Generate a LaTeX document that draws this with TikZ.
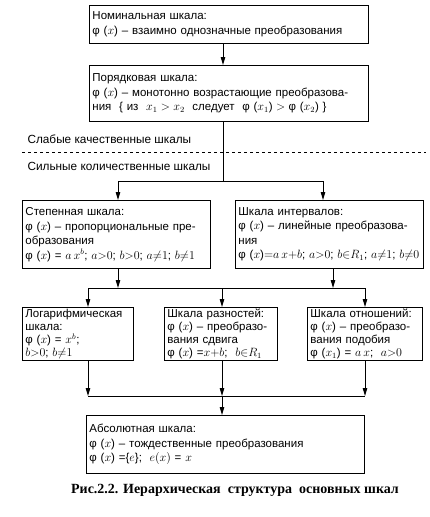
\documentclass[tikz,border=0pt]{standalone}
\usepackage{fontspec}
\setmainfont{Liberation Sans}
\newfontfamily\capfont{Liberation Serif}
\usepackage{tikz}
\usetikzlibrary{arrows.meta, positioning, calc}

\begin{document}
\begin{tikzpicture}[x=1pt, y=-1pt,
                scalebox/.style={draw, line width=0.9pt, rectangle, anchor=north west, align=left,
                    inner xsep=3pt, inner ysep=1pt, font=\fontsize{11.5}{14.5}\selectfont},
                smallbox/.style={scalebox, font=\fontsize{11.5}{13}\selectfont},
                arr/.style={draw, line width=0.9pt, -{Triangle[width=4.5pt, length=8pt]}},
                line/.style={draw, line width=0.9pt, -}
            ]
            \useasboundingbox (0,0) rectangle (429,517);

            % Weak scales
            \node[scalebox, text width=273pt, minimum height=38pt] (nom) at (89,5)
                {Номинальная шкала:\\φ ($x$) – взаимно однозначные преобразования};
            \node[scalebox, text width=273pt, minimum height=56pt] (ord) at (89,65)
                {Порядковая шкала:\\φ ($x$) – монотонно возрастающие преобразова-\\\mbox{ния \ \{ из \ $x_1>x_2$ \ следует \ φ ($x_1$)${}>{}$φ ($x_2$) \}}};

            % Boundary between weak and strong scales
            \node[anchor=west, font=\fontsize{11.8}{13}\selectfont] (weak) at (24,139) {Слабые качественные шкалы};
            \node[anchor=west, font=\fontsize{11.8}{13}\selectfont] (strong) at (24,166) {Сильные количественные шкалы};
            \coordinate (dl) at (22,152);
            \coordinate (dr) at (426,152);
            \draw[dashed, line width=0.7pt] (dl) -- (dr);

            % Strong scales
            \node[scalebox, text width=182pt, minimum height=68pt] (pow) at (22,200)
                {Степенная шкала:\\\mbox{φ ($x$) – пропорциональные пре-}\\образования\\\mbox{φ ($x$) = $a\,x^{b}$; $a{>}0$; $b{>}0$; $a{\neq}1$; $b{\neq}1$}};
            \node[scalebox, text width=182pt, minimum height=68pt] (int) at (235,200)
                {Шкала интервалов:\\φ ($x$) – линейные преобразова-\\ния\\\mbox{φ ($x$)${=}a\,x{+}b$; $a{>}0$; $b{\in}R_1$; $a{\neq}1$; $b{\neq}0$}};
            \node[smallbox, text width=105pt, minimum height=53pt] (log) at (22,307)
                {Логарифмическая\\шкала:\\φ ($x$) = $x^{b}$;\\$b{>}0$; $b{\neq}1$};
            \node[smallbox, text width=107pt, minimum height=53pt] (dif) at (164,307)
                {\mbox{Шкала разностей:}\\φ ($x$) – преобразо-\\вания сдвига\\\mbox{φ ($x$) =$x{+}b$; \ $b{\in}R_1$}};
            \node[smallbox, text width=109pt, minimum height=53pt] (rat) at (307,307)
                {\mbox{Шкала отношений:}\\φ ($x$) – преобразо-\\вания подобия\\\mbox{φ ($x_1$) = $a\,x$; \ $a{>}0$}};
            \node[scalebox, text width=272pt, minimum height=58pt] (abs) at (86,415)
                {Абсолютная шкала:\\φ ($x$) – тождественные преобразования\\φ ($x$) =\{$e$\}; \ $e(x)$ = $x$};

            % Caption
            \node[font=\capfont\bfseries\fontsize{14}{16}\selectfont] (cap) at (235,490)
                {Рис.2.2. Иерархическая \ структура \ основных шкал};

            % Junctions
            \coordinate (j1) at (223,181);
            \coordinate (j1l) at (118,181);
            \coordinate (j1r) at (323,181);
            \coordinate (j2) at (222,288);
            \coordinate (j2l) at (88,288);
            \coordinate (j2r) at (365,288);
            \coordinate (j3) at (222,396);
            \coordinate (j3l) at (88,396);
            \coordinate (j3r) at (365,396);

            % Connections
            \draw[arr] (nom.south -| j1) -- (ord.north -| j1);
            \draw[line] (ord.south -| j1) -- (j1);
            \draw[line] (j1l) -- (j1r);
            \draw[arr] (j1l) -- (j1l |- pow.north);
            \draw[arr] (j1r) -- (j1r |- int.north);

            \draw[arr] (pow.south -| j1l) -- (j1l |- j2);
            \draw[arr] (int.south -| 333,0) -- (333,288);
            \draw[line] (j2l) -- (j2r);
            \draw[arr] (j2l) -- (j2l |- log.north);
            \draw[arr] (j2) -- (j2 |- dif.north);
            \draw[arr] (j2r) -- (j2r |- rat.north);

            \draw[arr] (log.south -| j3l) -- (j3l);
            \draw[arr] (dif.south -| j3) -- (j3);
            \draw[arr] (rat.south -| j3r) -- (j3r);
            \draw[line] (j3l) -- (j3r);
            \draw[arr] (j3) -- (j3 |- abs.north);
        \end{tikzpicture}
\end{document}
